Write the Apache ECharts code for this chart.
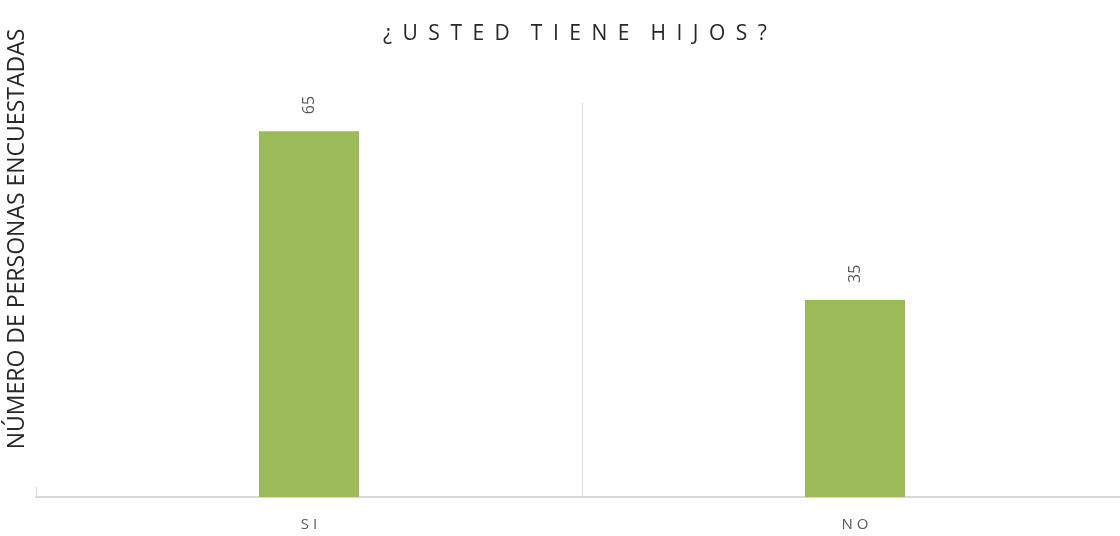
<!DOCTYPE html>
<html>
<head>
<meta charset="utf-8">
<script src="https://cdn.jsdelivr.net/npm/echarts@6/dist/echarts.min.js"></script>
<style>
html,body{margin:0;padding:0;background:#fff;}
#c{width:1120px;height:536px;}
</style>
</head>
<body>
<div id="c"></div>
<script>
const titleText = '¿USTED TIENE HIJOS?';
const yAxisTitle = 'NÚMERO DE PERSONAS ENCUESTADAS';
const categories = ['SI', 'NO'];
const values = [65, 35];

// visual letter spacing (as in the original chart) using en spaces
function spaced(s, gap, wordGap) {
  return s.split(' ').map(w => Array.from(w).join(gap)).join(wordGap);
}

const chart = echarts.init(document.getElementById('c'), null, {renderer: 'canvas'});
chart.setOption({
  backgroundColor: '#ffffff',
  animation: false,
  title: {
    text: spaced(titleText, '\u2002', '\u2002\u2002'),
    left: 378,
    top: 19,
    textStyle: {fontFamily: 'Open Sans', fontSize: 21, fontWeight: 'normal', color: '#262626'}
  },
  graphic: [{
    type: 'text',
    x: 17, y: 239,
    rotation: Math.PI / 2,
    style: {
      text: yAxisTitle,
      fontFamily: 'Open Sans', fontSize: 23, fill: '#262626',
      align: 'center', verticalAlign: 'middle'
    }
  }],
  grid: {left: 36, width: 1092, top: 103, bottom: 39, containLabel: false, outerBoundsMode: 'none'},
  xAxis: {
    type: 'category',
    data: categories,
    boundaryGap: true,
    axisLine: {show: true, lineStyle: {color: '#d9d9d9', width: 2}},
    axisTick: {show: true, inside: true, length: 10, lineStyle: {color: '#d9d9d9', width: 1}},
    splitLine: {show: true, showMinLine: false, showMaxLine: false, lineStyle: {color: '#d9d9d9', width: 1}},
    axisLabel: {
      color: '#595959', fontFamily: 'Open Sans', fontSize: 15, margin: 20,
      formatter: v => spaced(v, ' ', '  ')
    }
  },
  yAxis: {
    type: 'value',
    min: 0, max: 70,
    axisLine: {show: false},
    axisTick: {show: false},
    axisLabel: {show: false},
    splitLine: {show: false}
  },
  series: [{
    type: 'bar',
    data: values,
    barWidth: 100,
    itemStyle: {color: '#9BBB59'},
    label: {
      show: true,
      position: 'top',
      rotate: 90,
      align: 'left',
      verticalAlign: 'middle',
      distance: 17,
      color: '#595959',
      fontFamily: 'Open Sans',
      fontSize: 16
    }
  }]
});
</script>
</body>
</html>
